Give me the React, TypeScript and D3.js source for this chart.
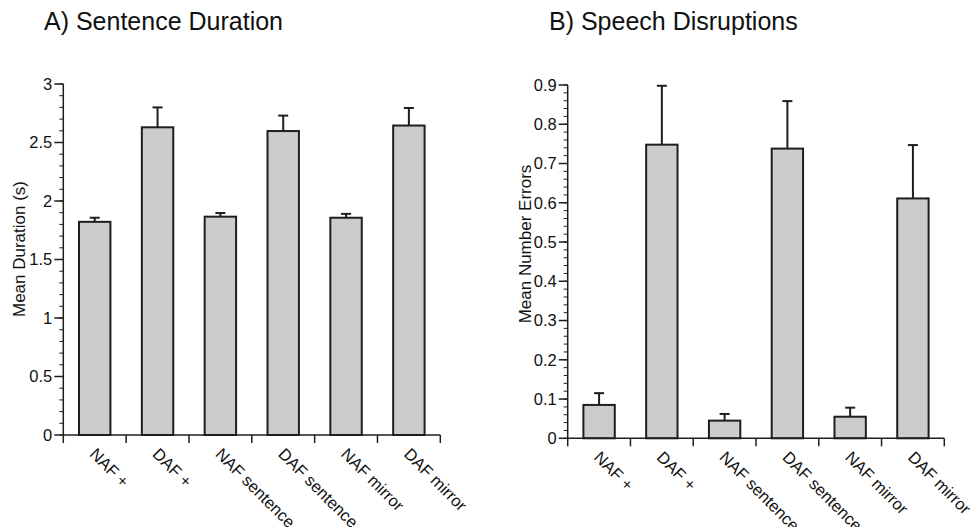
import React from "react";
import * as d3 from "d3";

const categories = ["NAF +", "DAF +", "NAF sentence", "DAF sentence", "NAF mirror", "DAF mirror"];
const durationMean = [1.822, 2.63, 1.866, 2.598, 1.857, 2.645];
const durationErr = [0.035, 0.17, 0.031, 0.132, 0.033, 0.15];
const errorsMean = [0.085, 0.748, 0.045, 0.738, 0.055, 0.611];
const errorsErr = [0.03, 0.15, 0.017, 0.121, 0.023, 0.136];
const durationTicks = [0, 0.5, 1, 1.5, 2, 2.5, 3];
const errorTicks = [0, 0.1, 0.2, 0.3, 0.4, 0.5, 0.6, 0.7, 0.8, 0.9];

const FONT = "'Liberation Sans', Arial, Helvetica, sans-serif";
const INK = "#1e1e1e";

type PanelProps = {
  title: string;
  titleX: number;
  yLabel: string;
  yLabelX: number;
  yLabelY: number;
  means: number[];
  errs: number[];
  ticks: number[];
  yMax: number;
  minorStep: number;
  x0: number;
  x1: number;
  y0: number;
  y1: number;
};

function Panel(p: PanelProps) {
  const x = d3.scaleBand<string>().domain(categories).range([p.x0, p.x1]).paddingInner(0.5).paddingOuter(0.25);
  const y = d3.scaleLinear().domain([0, p.yMax]).range([p.y0, p.y1]);
  const step = x.step();
  const bw = x.bandwidth();
  const nMinor = Math.round(p.yMax / p.minorStep);
  const minor = d3.range(nMinor + 1).map((i) => i * p.minorStep);
  const boundaries = d3.range(categories.length + 1).map((i) => p.x0 + i * step);
  const fmt = (v: number) => (v === 0 ? "0" : String(+v.toFixed(2)));
  return (
    <g>
      <text x={p.titleX} y={30} fontSize={25} fontFamily={FONT} fill="#111">{p.title}</text>
      <text
        transform={`translate(${p.yLabelX},${p.yLabelY}) rotate(-90)`}
        textAnchor="middle"
        fontSize={17}
        fontFamily={FONT}
        fill="#111"
      >
        {p.yLabel}
      </text>
      {categories.map((c, i) => {
        const cx = (x(c) as number) + bw / 2;
        const top = y(p.means[i]);
        const et = y(p.means[i] + p.errs[i]);
        return (
          <g key={c}>
            <line x1={cx} x2={cx} y1={top} y2={et} stroke={INK} strokeWidth={2} />
            <line x1={cx - 5} x2={cx + 5} y1={et} y2={et} stroke={INK} strokeWidth={2} />
            <rect x={x(c)} y={top} width={bw} height={p.y0 - top} fill="#cccccc" stroke={INK} strokeWidth={2} />
          </g>
        );
      })}
      <line x1={p.x0} x2={p.x0} y1={p.y0} y2={p.y1} stroke={INK} strokeWidth={1.5} />
      {minor.map((v, i) => (
        <line key={"m" + i} x1={p.x0 - 4} x2={p.x0} y1={y(v)} y2={y(v)} stroke={INK} strokeWidth={1} />
      ))}
      {p.ticks.map((v) => (
        <g key={"t" + v}>
          <line x1={p.x0 - 9} x2={p.x0} y1={y(v)} y2={y(v)} stroke={INK} strokeWidth={1.5} />
          <text
            x={p.x0 - 11}
            y={y(v)}
            dy="0.36em"
            textAnchor="end"
            fontSize={16.5}
            fontFamily={FONT}
            fill="#111"
          >
            {fmt(v)}
          </text>
        </g>
      ))}
      <line x1={p.x0} x2={p.x1} y1={p.y0} y2={p.y0} stroke={INK} strokeWidth={1.5} />
      {boundaries.map((bx, i) => (
        <line key={"b" + i} x1={bx} x2={bx} y1={p.y0} y2={p.y0 + 8} stroke={INK} strokeWidth={1.5} />
      ))}
      {categories.map((c) => {
        const cx = (x(c) as number) + bw / 2;
        return (
          <text
            key={"l" + c}
            transform={`translate(${cx - 6},${p.y0 + 20}) rotate(45)`}
            fontSize={16.5}
            fontFamily={FONT}
            fill="#111"
          >
            {c}
          </text>
        );
      })}
    </g>
  );
}

export default function App() {
  return (
    <svg
      width={972}
      height={527}
      style={{ position: "absolute", left: 0, top: 0, background: "#fff" }}
    >
      <rect width={972} height={527} fill="#fff" />
      <Panel
        title="A) Sentence Duration"
        titleX={44}
        yLabel="Mean Duration (s)"
        yLabelX={25}
        yLabelY={249}
        means={durationMean}
        errs={durationErr}
        ticks={durationTicks}
        yMax={3}
        minorStep={0.1}
        x0={63.3}
        x1={440.3}
        y0={435}
        y1={84}
      />
      <Panel
        title="B) Speech Disruptions"
        titleX={549}
        yLabel="Mean Number Errors"
        yLabelX={531}
        yLabelY={244}
        means={errorsMean}
        errs={errorsErr}
        ticks={errorTicks}
        yMax={0.9}
        minorStep={0.02}
        x0={567.7}
        x1={944.3}
        y0={438.3}
        y1={85}
      />
    </svg>
  );
}
